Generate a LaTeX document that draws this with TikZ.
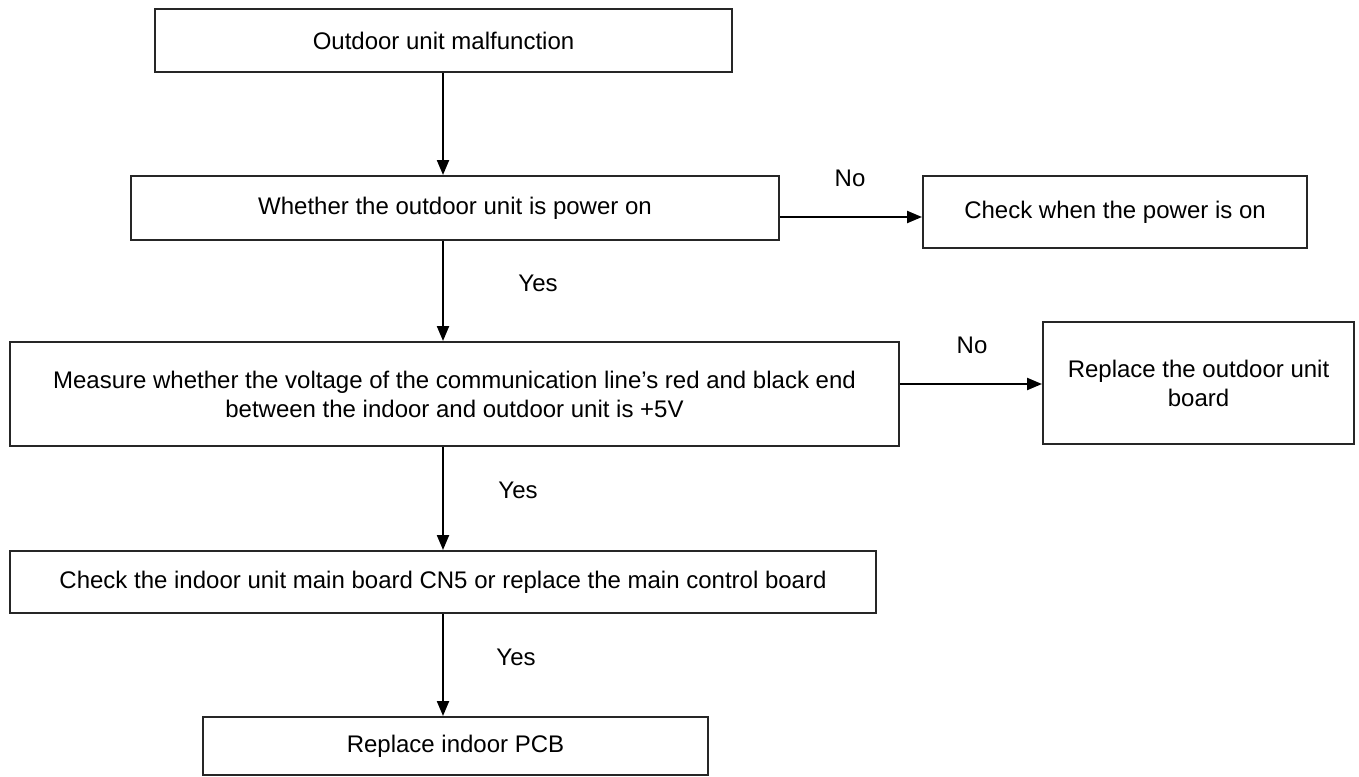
\documentclass[tikz,border=0pt]{standalone}
\usepackage{fontspec}
\setmainfont{Liberation Sans}
\usetikzlibrary{arrows.meta}
\begin{document}
\begin{tikzpicture}[x=1pt,y=-1pt,
  font=\fontsize{24}{29}\selectfont,
  boxshape/.style={draw=black!85, line width=2pt, inner sep=0pt, align=center},
  flow/.style={line width=2.2pt, -{Triangle[length=15pt,width=12pt]}},
  lbl/.style={inner sep=0pt}]
\useasboundingbox (0,0) rectangle (1359,776);
\node[boxshape, minimum width=577pt, minimum height=63pt] (b1) at (443.5,40.5) {Outdoor unit malfunction};
\node[boxshape, minimum width=648pt, minimum height=64pt] (b2) at (455,208) {Whether the outdoor unit is power on};
\node[boxshape, minimum width=384pt, minimum height=72pt] (b3) at (1115,212) {Check when the power is on};
\node[boxshape, minimum width=889pt, minimum height=104pt] (b4) at (454.5,394) {Measure whether the voltage of the communication line’s red and black end\\between the indoor and outdoor unit is +5V};
\node[boxshape, minimum width=311pt, minimum height=122pt] (b5) at (1198.5,383) {Replace the outdoor unit\\board};
\node[boxshape, minimum width=866pt, minimum height=62pt] (b6) at (443,582) {Check the indoor unit main board CN5 or replace the main control board};
\node[boxshape, minimum width=505pt, minimum height=58pt] (b7) at (455.5,746) {Replace indoor PCB};
\coordinate (ax) at (443,0);
\coordinate (r1) at (0,217);
\coordinate (r2) at (0,384);
\draw[flow] (ax |- b1.south) -- (ax |- b2.north);
\draw[flow] (ax |- b2.south) -- (ax |- b4.north);
\draw[flow] (ax |- b4.south) -- (ax |- b6.north);
\draw[flow] (ax |- b6.south) -- (ax |- b7.north);
\draw[flow] (b2.east |- r1) -- (b3.west |- r1);
\draw[flow] (b4.east |- r2) -- (b5.west |- r2);
\node[lbl] (no1) at (850,178) {No};
\node[lbl] (yes1) at (538,283) {Yes};
\node[lbl] (no2) at (972,345) {No};
\node[lbl] (yes2) at (518,490) {Yes};
\node[lbl] (yes3) at (516,657) {Yes};
\end{tikzpicture}
\end{document}
